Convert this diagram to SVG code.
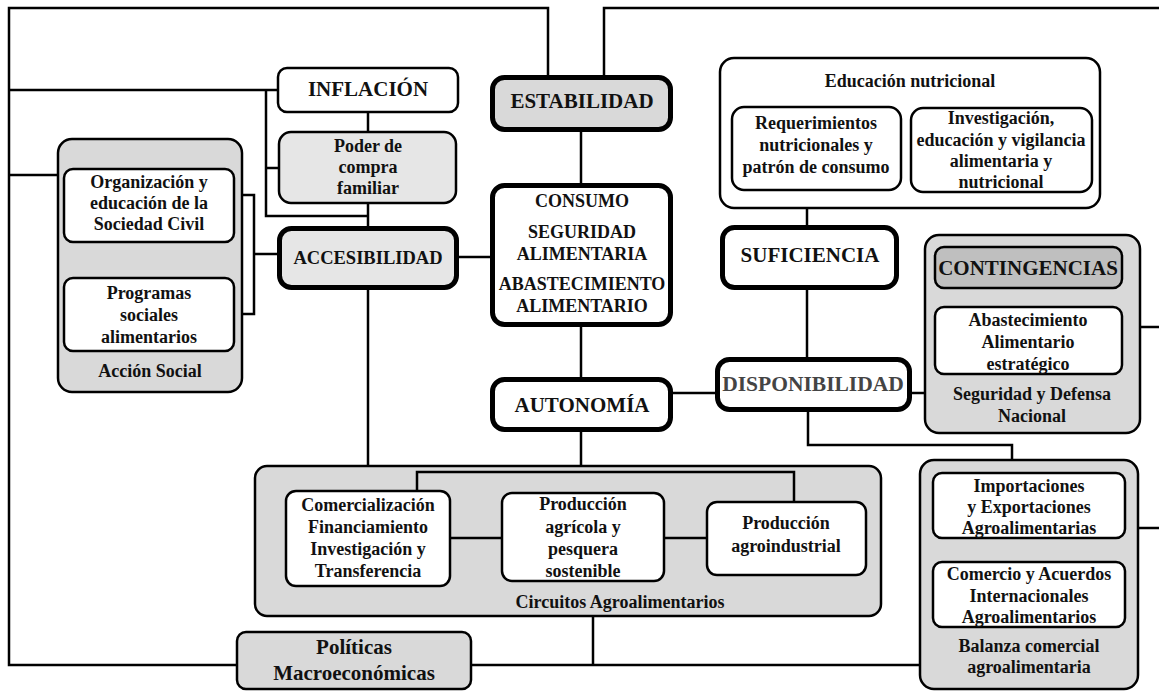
<svg xmlns="http://www.w3.org/2000/svg" width="1159" height="691" viewBox="0 0 1159 691">
<style>
.b{fill:#fff;stroke:#000;stroke-width:2.5}
.k{fill:#fff;stroke:#000;stroke-width:5}
.g{fill:#d9d9d9;stroke:#000;stroke-width:2.5}
.gl{fill:#e6e6e6;stroke:#000;stroke-width:2.5}
.c{fill:none;stroke:#000;stroke-width:2.5}
text{font-family:"Liberation Serif","Times New Roman",serif;font-weight:bold;text-anchor:middle;fill:#111}
.s{font-size:18px}
.m{font-size:18.5px}
.l{font-size:21px}
</style>
<rect width="1159" height="691" fill="#fff"/>
<g id="connectors">
<polyline class="c" points="548,75 548,8 9,8 9,665 237,665"/>
<polyline class="c" points="604,75 604,8 1162,8"/>
<line class="c" x1="9" y1="90" x2="278" y2="90"/>
<polyline class="c" points="266,90 266,216 368,216"/>
<line class="c" x1="266" y1="168" x2="279" y2="168"/>
<line class="c" x1="9" y1="175" x2="58" y2="175"/>
<line class="c" x1="368" y1="112" x2="368" y2="132"/>
<line class="c" x1="368" y1="203" x2="368" y2="226"/>
<polyline class="c" points="234,195 254,195 254,314 234,314"/>
<line class="c" x1="254" y1="254" x2="277" y2="254"/>
<line class="c" x1="459" y1="257" x2="490" y2="257"/>
<line class="c" x1="368" y1="290" x2="368" y2="491"/>
<line class="c" x1="581" y1="132" x2="581" y2="183"/>
<line class="c" x1="581" y1="327" x2="581" y2="377"/>
<line class="c" x1="581" y1="432" x2="581" y2="493"/>
<line class="c" x1="673" y1="393" x2="715" y2="393"/>
<line class="c" x1="807" y1="208" x2="807" y2="225"/>
<line class="c" x1="807" y1="290" x2="807" y2="357"/>
<line class="c" x1="912" y1="393" x2="925" y2="393"/>
<polyline class="c" points="808,412 808,445 1012,445 1012,460"/>
<line class="c" x1="1140" y1="327" x2="1162" y2="327"/>
<line class="c" x1="1138" y1="528" x2="1162" y2="528"/>
<line class="c" x1="593" y1="616" x2="593" y2="665"/>
<line class="c" x1="471" y1="665" x2="920" y2="665"/>
</g>
<g id="accion-social">
<rect class="g" x="58" y="139" width="184" height="253" rx="14"/>
<text class="s" x="150" y="377">Acción Social</text>
</g>
<g id="organizacion">
<rect class="b" x="64" y="169" width="170" height="73" rx="9"/>
<text class="s" x="149" y="188">Organización y</text>
<text class="s" x="149" y="209">educación de la</text>
<text class="s" x="149" y="230">Sociedad Civil</text>
</g>
<g id="programas">
<rect class="b" x="64" y="278" width="170" height="73" rx="9"/>
<text class="s" x="149" y="299">Programas</text>
<text class="s" x="149" y="321">sociales</text>
<text class="s" x="149" y="343">alimentarios</text>
</g>
<g id="inflacion">
<rect class="b" x="278" y="68" width="180" height="44" rx="9"/>
<text class="l" x="368" y="96">INFLACIÓN</text>
</g>
<g id="poder-compra">
<rect class="gl" x="279" y="132" width="177" height="71" rx="12"/>
<text class="s" x="368" y="152">Poder de</text>
<text class="s" x="368" y="173">compra</text>
<text class="s" x="368" y="194">familiar</text>
</g>
<g id="accesibilidad">
<rect class="k" x="279.5" y="228.5" width="177" height="59" rx="12" style="fill:#e6e6e6"/>
<text class="m" x="368" y="264">ACCESIBILIDAD</text>
</g>
<g id="estabilidad">
<rect class="k" x="492.5" y="77.5" width="178" height="52" rx="12" style="fill:#d9d9d9"/>
<text class="l" x="582" y="108">ESTABILIDAD</text>
</g>
<g id="consumo">
<rect class="k" x="492.5" y="185.5" width="178" height="139" rx="12"/>
<text class="s" x="582" y="207">CONSUMO</text>
<text class="s" x="582" y="238">SEGURIDAD</text>
<text class="s" x="582" y="260">ALIMENTARIA</text>
<text class="s" x="582" y="290">ABASTECIMIENTO</text>
<text class="s" x="582" y="312">ALIMENTARIO</text>
</g>
<g id="autonomia">
<rect class="k" x="492.5" y="379.5" width="178" height="50" rx="12"/>
<text class="l" x="582" y="412">AUTONOMÍA</text>
</g>
<g id="educacion-nutricional">
<rect class="b" x="720" y="58" width="380" height="150" rx="14"/>
<text class="s" x="910" y="87">Educación nutricional</text>
</g>
<g id="requerimientos">
<rect class="b" x="732" y="107" width="169" height="83" rx="12"/>
<text class="s" x="816" y="129">Requerimientos</text>
<text class="s" x="816" y="151">nutricionales y</text>
<text class="s" x="816" y="173">patrón de consumo</text>
</g>
<g id="investigacion">
<rect class="b" x="911" y="108" width="181" height="84" rx="12"/>
<text class="s" x="1001" y="124">Investigación,</text>
<text class="s" x="1001" y="146">educación y vigilancia</text>
<text class="s" x="1001" y="167">alimentaria y</text>
<text class="s" x="1001" y="188">nutricional</text>
</g>
<g id="suficiencia">
<rect class="k" x="722.5" y="227.5" width="174" height="60" rx="12"/>
<text class="l" x="810" y="262">SUFICIENCIA</text>
</g>
<g id="disponibilidad">
<rect class="k" x="717.5" y="359.5" width="192" height="50" rx="12"/>
<text x="813" y="391" style="font-size:21.5px;fill:#444">DISPONIBILIDAD</text>
</g>
<g id="seguridad-defensa">
<rect class="g" x="925" y="235" width="215" height="198" rx="14"/>
<text class="s" x="1032" y="400">Seguridad y Defensa</text>
<text class="s" x="1032" y="422">Nacional</text>
</g>
<g id="contingencias">
<rect class="b" x="935" y="247" width="187" height="41" rx="9" style="fill:#bfbfbf"/>
<text class="l" x="1028" y="275">CONTINGENCIAS</text>
</g>
<g id="abastecimiento-estrategico">
<rect class="b" x="935" y="307" width="187" height="67" rx="9"/>
<text class="s" x="1028" y="326">Abastecimiento</text>
<text class="s" x="1028" y="348">Alimentario</text>
<text class="s" x="1028" y="370">estratégico</text>
</g>
<g id="circuitos">
<rect class="g" x="255" y="466" width="626" height="150" rx="12"/>
<text class="s" x="620" y="608">Circuitos Agroalimentarios</text>
<polyline class="c" points="417,491 417,472 794,472 794,502"/>
<line class="c" x1="450" y1="538" x2="502" y2="538"/>
<line class="c" x1="664" y1="538" x2="707" y2="538"/>
</g>
<g id="comercializacion">
<rect class="b" x="286" y="491" width="164" height="95" rx="10"/>
<text class="s" x="368" y="511">Comercialización</text>
<text class="s" x="368" y="533">Financiamiento</text>
<text class="s" x="368" y="555">Investigación y</text>
<text class="s" x="368" y="577">Transferencia</text>
</g>
<g id="produccion-agricola">
<rect class="b" x="502" y="493" width="162" height="88" rx="10"/>
<text class="s" x="583" y="510">Producción</text>
<text class="s" x="583" y="533">agrícola y</text>
<text class="s" x="583" y="555">pesquera</text>
<text class="s" x="583" y="577">sostenible</text>
</g>
<g id="produccion-agroindustrial">
<rect class="b" x="707" y="502" width="159" height="73" rx="10"/>
<text class="s" x="786" y="529">Producción</text>
<text class="s" x="786" y="552">agroindustrial</text>
</g>
<g id="politicas">
<rect class="g" x="237" y="632" width="234" height="57" rx="9"/>
<text class="l" x="354" y="654">Políticas</text>
<text class="l" x="354" y="680">Macroeconómicas</text>
</g>
<g id="balanza">
<rect class="g" x="920" y="460" width="218" height="229" rx="14"/>
<text class="s" x="1029" y="652">Balanza comercial</text>
<text class="s" x="1029" y="673">agroalimentaria</text>
</g>
<g id="importaciones">
<rect class="b" x="933" y="473" width="192" height="65" rx="9"/>
<text class="s" x="1029" y="492">Importaciones</text>
<text class="s" x="1029" y="513">y Exportaciones</text>
<text class="s" x="1029" y="534">Agroalimentarias</text>
</g>
<g id="comercio">
<rect class="b" x="933" y="562" width="192" height="65" rx="9"/>
<text class="s" x="1029" y="580">Comercio y Acuerdos</text>
<text class="s" x="1029" y="602">Internacionales</text>
<text class="s" x="1029" y="623">Agroalimentarios</text>
</g>
</svg>
